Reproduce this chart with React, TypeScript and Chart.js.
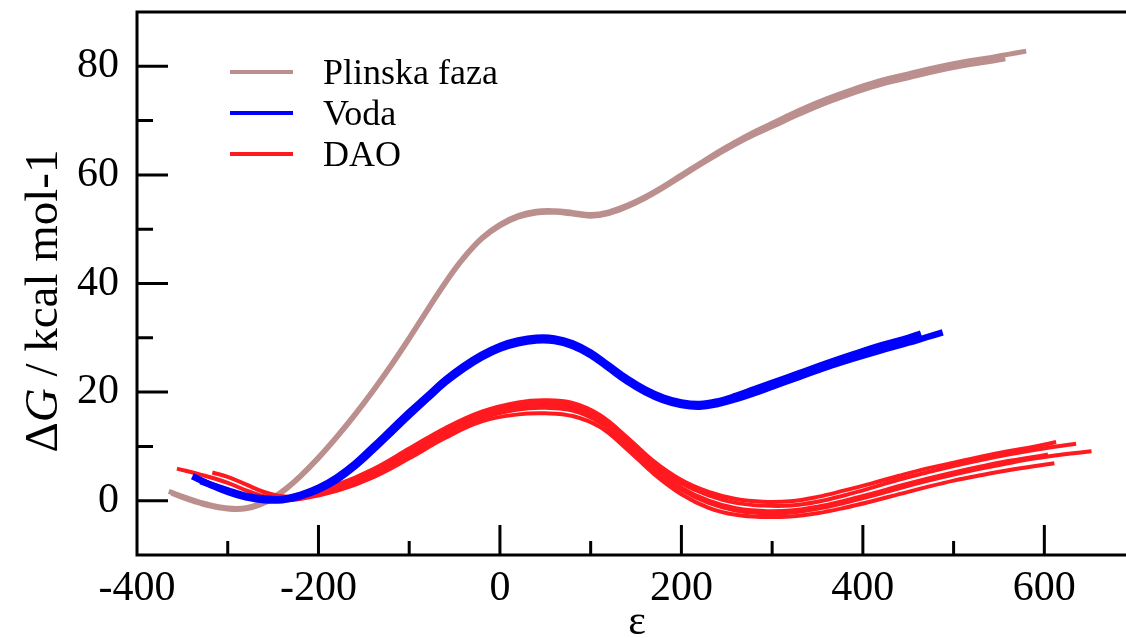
import React, { useEffect, useRef } from 'react';
import { Chart, registerables } from 'chart.js';

Chart.register(...registerables);

// ---- axis ticks ----
const xMajorTicks = [-400, -200, 0, 200, 400, 600];
const xMinorTicks = [-300, -100, 100, 300, 500];
const yMajorTicks = [0, 20, 40, 60, 80];
const yMinorTicks = [10, 30, 50, 70];
const xRange = [-400, 690];
const yRange = [-10, 90];

// ---- legend / titles ----
const seriesNames = ['Plinska faza', 'Voda', 'DAO'];
const seriesColors = ['#bc8f8f', '#0000ff', '#ff1a1f'];
const xTitle = 'ε';
const yTitleParts = ['Δ', 'G', ' / kcal mol-1'];

// ---- Plinska faza (gas phase) ----
const plinska1X = [-365, -345, -330, -310, -295, -280, -265, -250, -235, -220, -200, -180, -160, -140, -120, -100, -80, -60, -40, -20, 0, 20, 40, 60, 80, 100, 120, 140, 160, 180, 200, 220, 240, 260, 280, 300, 330, 360, 390, 420, 450, 480, 510, 540, 560, 580];
const plinska1Y = [1.7, 0.5, -0.3, -1.1, -1.4, -1.3, -0.6, 0.6, 2.4, 4.6, 8.0, 11.8, 15.9, 20.3, 25.0, 30.0, 35.2, 40.3, 44.8, 48.4, 50.9, 52.5, 53.3, 53.4, 53.1, 52.7, 53.2, 54.4, 56.0, 57.9, 60.0, 62.1, 64.2, 66.1, 67.9, 69.5, 71.9, 74.0, 75.8, 77.4, 78.6, 79.8, 80.8, 81.6, 82.2, 82.8];
const plinska2X = [-362, -345, -330, -310, -295, -280, -265, -250, -235, -220, -200, -180, -160, -140, -120, -100, -80, -60, -40, -20, 0, 20, 40, 60, 80, 100, 120, 140, 160, 180, 200, 220, 240, 260, 280, 300, 330, 360, 390, 420, 450, 480, 510, 540, 557];
const plinska2Y = [1.4, 0.3, -0.5, -1.3, -1.6, -1.5, -0.8, 0.4, 2.2, 4.4, 7.8, 11.6, 15.7, 20.1, 24.8, 29.8, 35.0, 40.1, 44.6, 48.2, 50.6, 52.2, 53.0, 53.1, 52.8, 52.4, 52.9, 54.1, 55.7, 57.6, 59.7, 61.8, 63.8, 65.7, 67.4, 68.9, 71.2, 73.3, 75.1, 76.7, 77.9, 79.1, 80.1, 80.9, 81.4];

// ---- Voda (water) ----
const voda1X = [-339, -320, -300, -280, -260, -240, -220, -200, -180, -160, -140, -120, -100, -80, -60, -40, -20, 0, 20, 40, 60, 80, 100, 120, 140, 160, 180, 200, 220, 240, 260, 280, 300, 330, 360, 390, 420, 450, 470, 488];
const voda1Y = [4.5, 3.0, 1.6, 0.6, 0.1, 0.1, 0.8, 2.0, 3.8, 6.3, 9.3, 12.5, 15.7, 18.8, 21.8, 24.3, 26.4, 28.0, 29.0, 29.5, 29.4, 28.5, 26.8, 24.4, 22.0, 20.0, 18.5, 17.6, 17.3, 17.8, 18.7, 19.8, 21.0, 22.8, 24.6, 26.2, 27.7, 29.1, 30.1, 31.0];
const voda2X = [-330, -300, -280, -260, -240, -220, -200, -180, -160, -140, -120, -100, -80, -60, -40, -20, 0, 20, 40, 60, 80, 100, 120, 140, 160, 180, 200, 220, 240, 260, 280, 300, 330, 360, 390, 420, 450, 464];
const voda2Y = [3.6, 1.9, 0.9, 0.4, 0.3, 1.1, 2.4, 4.3, 6.8, 9.9, 13.1, 16.3, 19.3, 22.3, 24.8, 26.9, 28.5, 29.5, 30.0, 29.9, 29.0, 27.3, 24.9, 22.5, 20.5, 19.0, 18.1, 17.8, 18.3, 19.3, 20.5, 21.7, 23.5, 25.3, 27.0, 28.6, 30.0, 30.8];

// ---- DAO ----
const dao1X = [-356, -330, -300, -275, -250, -220, -180, -140, -100, -60, -20, 20, 50, 80, 110, 140, 170, 200, 230, 260, 290, 320, 350, 380, 410, 440, 470, 500, 530, 560, 590, 613];
const dao1Y = [5.9, 4.8, 3.3, 1.6, 0.6, 0.9, 2.9, 5.8, 9.6, 13.4, 16.4, 18.1, 18.5, 18.0, 15.8, 11.7, 7.2, 3.8, 1.6, 0.3, -0.2, -0.1, 0.7, 1.9, 3.2, 4.6, 5.9, 7.0, 8.1, 9.1, 10.0, 10.8];
const dao2X = [-317, -300, -280, -260, -240, -220, -180, -140, -100, -60, -20, 20, 50, 80, 110, 140, 170, 200, 230, 260, 290, 320, 350, 380, 410, 440, 470, 500, 530, 560, 590, 613, 635];
const dao2Y = [5.2, 4.4, 3.0, 1.6, 0.8, 0.8, 2.6, 5.4, 9.2, 13.0, 16.0, 17.6, 17.9, 17.4, 15.2, 11.1, 6.6, 3.2, 1.0, -0.4, -0.9, -0.9, -0.2, 1.0, 2.4, 3.9, 5.2, 6.4, 7.5, 8.5, 9.4, 10.0, 10.5];
const dao3X = [-335, -300, -270, -250, -220, -180, -140, -100, -60, -20, 20, 50, 80, 110, 140, 170, 200, 230, 260, 290, 320, 350, 380, 410, 440, 470, 500, 530, 560, 590, 604];
const dao3Y = [4.2, 2.0, 0.5, 0.0, 0.6, 2.4, 5.1, 8.8, 12.6, 15.6, 17.2, 17.5, 17.0, 14.8, 10.6, 6.0, 2.4, 0.0, -1.4, -1.9, -1.8, -1.1, 0.0, 1.3, 2.7, 4.0, 5.2, 6.3, 7.3, 8.1, 8.5];
const dao4X = [-320, -300, -270, -250, -220, -180, -140, -100, -60, -20, 20, 50, 80, 110, 140, 170, 200, 230, 260, 290, 320, 350, 380, 410, 440, 470, 500, 530, 560, 590, 620, 652];
const dao4Y = [3.0, 1.8, 0.4, 0.0, 0.5, 2.2, 4.8, 8.4, 12.2, 15.2, 16.8, 17.1, 16.6, 14.4, 10.2, 5.6, 2.0, -0.4, -1.8, -2.3, -2.2, -1.5, -0.4, 0.9, 2.3, 3.6, 4.8, 5.9, 6.9, 7.8, 8.5, 9.1];
const dao5X = [-300, -270, -250, -220, -180, -140, -100, -60, -20, 20, 50, 80, 110, 140, 170, 200, 230, 260, 290, 320, 350, 380, 410, 440, 470, 500, 530, 560, 590, 611];
const dao5Y = [1.5, 0.3, 0.0, 0.3, 1.8, 4.3, 7.8, 11.6, 14.6, 15.9, 16.1, 15.6, 13.6, 9.5, 4.9, 1.2, -1.3, -2.6, -3.0, -2.9, -2.3, -1.3, -0.1, 1.2, 2.5, 3.7, 4.7, 5.6, 6.4, 6.9];

const FONT = '"Liberation Serif", "Times New Roman", serif';

function pts(xs: number[], ys: number[]) {
  return xs.map((x, i) => ({ x, y: ys[i] }));
}

function lineDs(label: string, xs: number[], ys: number[], color: string, width: number) {
  return {
    label,
    data: pts(xs, ys),
    borderColor: color,
    backgroundColor: color,
    borderWidth: width,
    pointRadius: 0,
    fill: false,
    tension: 0.4,
    borderCapStyle: 'butt' as const,
    borderJoinStyle: 'round' as const,
  };
}

const framePlugin = {
  id: 'frameTicksLegend',
  afterDraw(chart: any) {
    const { ctx, chartArea: a, scales } = chart;
    const xs = scales.x;
    const ys = scales.y;
    ctx.save();
    ctx.strokeStyle = '#000';
    ctx.lineWidth = 3;
    ctx.lineCap = 'butt';
    ctx.beginPath();
    // frame (right side lies outside the picture)
    ctx.moveTo(a.left - 1.5, a.top);
    ctx.lineTo(chart.width, a.top);
    ctx.moveTo(a.left - 1.5, a.bottom);
    ctx.lineTo(chart.width, a.bottom);
    ctx.moveTo(a.left, a.top - 1.5);
    ctx.lineTo(a.left, a.bottom + 1.5);
    // inward ticks
    for (const v of xMajorTicks) {
      const p = xs.getPixelForValue(v);
      ctx.moveTo(p, a.bottom);
      ctx.lineTo(p, a.bottom - 30);
    }
    for (const v of xMinorTicks) {
      const p = xs.getPixelForValue(v);
      ctx.moveTo(p, a.bottom);
      ctx.lineTo(p, a.bottom - 14);
    }
    for (const v of yMajorTicks) {
      const p = ys.getPixelForValue(v);
      ctx.moveTo(a.left, p);
      ctx.lineTo(a.left + 31, p);
    }
    for (const v of yMinorTicks) {
      const p = ys.getPixelForValue(v);
      ctx.moveTo(a.left, p);
      ctx.lineTo(a.left + 16, p);
    }
    ctx.stroke();

    // legend
    const legendY = [72, 113, 154];
    ctx.lineWidth = 4;
    ctx.font = '36px ' + FONT;
    ctx.fillStyle = '#000';
    ctx.textAlign = 'left';
    ctx.textBaseline = 'alphabetic';
    seriesNames.forEach((name, i) => {
      ctx.strokeStyle = seriesColors[i];
      ctx.beginPath();
      ctx.moveTo(230, legendY[i]);
      ctx.lineTo(293, legendY[i]);
      ctx.stroke();
      ctx.fillText(name, 323, legendY[i] + 12);
    });

    // x title
    ctx.font = '42px ' + FONT;
    ctx.textAlign = 'center';
    ctx.fillText(xTitle, 637, 634);

    // y title (rotated, G italic)
    const size = 47;
    const fonts = [size + 'px ' + FONT, 'italic ' + size + 'px ' + FONT, size + 'px ' + FONT];
    let total = 0;
    const widths = yTitleParts.map((t, i) => {
      ctx.font = fonts[i];
      const w = ctx.measureText(t).width;
      total += w;
      return w;
    });
    ctx.translate(57, 301);
    ctx.rotate(-Math.PI / 2);
    ctx.textAlign = 'left';
    let x = -total / 2;
    yTitleParts.forEach((t, i) => {
      ctx.font = fonts[i];
      ctx.fillText(t, x, 0);
      x += widths[i];
    });
    ctx.restore();
  },
};

export default function App() {
  const ref = useRef<HTMLCanvasElement>(null);
  useEffect(() => {
    if (!ref.current) return;
    const chart = new Chart(ref.current, {
      type: 'line',
      data: {
        datasets: [
          lineDs('Voda', voda1X, voda1Y, seriesColors[1], 6.5),
          lineDs('Voda', voda2X, voda2Y, seriesColors[1], 6.5),
          lineDs('DAO', dao1X, dao1Y, seriesColors[2], 4),
          lineDs('DAO', dao2X, dao2Y, seriesColors[2], 4),
          lineDs('DAO', dao3X, dao3Y, seriesColors[2], 4),
          lineDs('DAO', dao4X, dao4Y, seriesColors[2], 4),
          lineDs('DAO', dao5X, dao5Y, seriesColors[2], 4),
          lineDs('Plinska faza', plinska1X, plinska1Y, seriesColors[0], 5),
          lineDs('Plinska faza', plinska2X, plinska2Y, seriesColors[0], 5),
        ],
      },
      options: {
        animation: false,
        responsive: false,
        devicePixelRatio: 1,
        layout: { padding: { top: 12, left: 0, right: 0, bottom: 0 } },
        plugins: { legend: { display: false }, tooltip: { enabled: false } },
        scales: {
          x: {
            type: 'linear',
            min: xRange[0],
            max: xRange[1],
            grid: { display: false, drawTicks: false },
            border: { display: false },
            afterBuildTicks: (axis: any) => {
              axis.ticks = xMajorTicks.map((v) => ({ value: v }));
            },
            afterFit: (axis: any) => {
              axis.height = 83;
              axis.paddingLeft = 0;
              axis.paddingRight = 0;
            },
            ticks: {
              autoSkip: false,
              maxRotation: 0,
              padding: 9,
              color: '#000',
              font: { family: FONT, size: 42 },
              callback: (v: any) => String(v),
            },
          },
          y: {
            type: 'linear',
            min: yRange[0],
            max: yRange[1],
            grid: { display: false, drawTicks: false },
            border: { display: false },
            afterBuildTicks: (axis: any) => {
              axis.ticks = yMajorTicks.map((v) => ({ value: v }));
            },
            afterFit: (axis: any) => {
              axis.width = 137;
              axis.paddingTop = 0;
              axis.paddingBottom = 0;
            },
            ticks: {
              autoSkip: false,
              padding: 18,
              color: '#000',
              font: { family: FONT, size: 42 },
              callback: (v: any) => String(v),
            },
          },
        },
      },
      plugins: [framePlugin],
    } as any);
    return () => chart.destroy();
  }, []);
  return (
    <canvas
      ref={ref}
      width={1126}
      height={638}
      style={{ position: 'fixed', left: 0, top: 0, width: 1126, height: 638 }}
    />
  );
}
